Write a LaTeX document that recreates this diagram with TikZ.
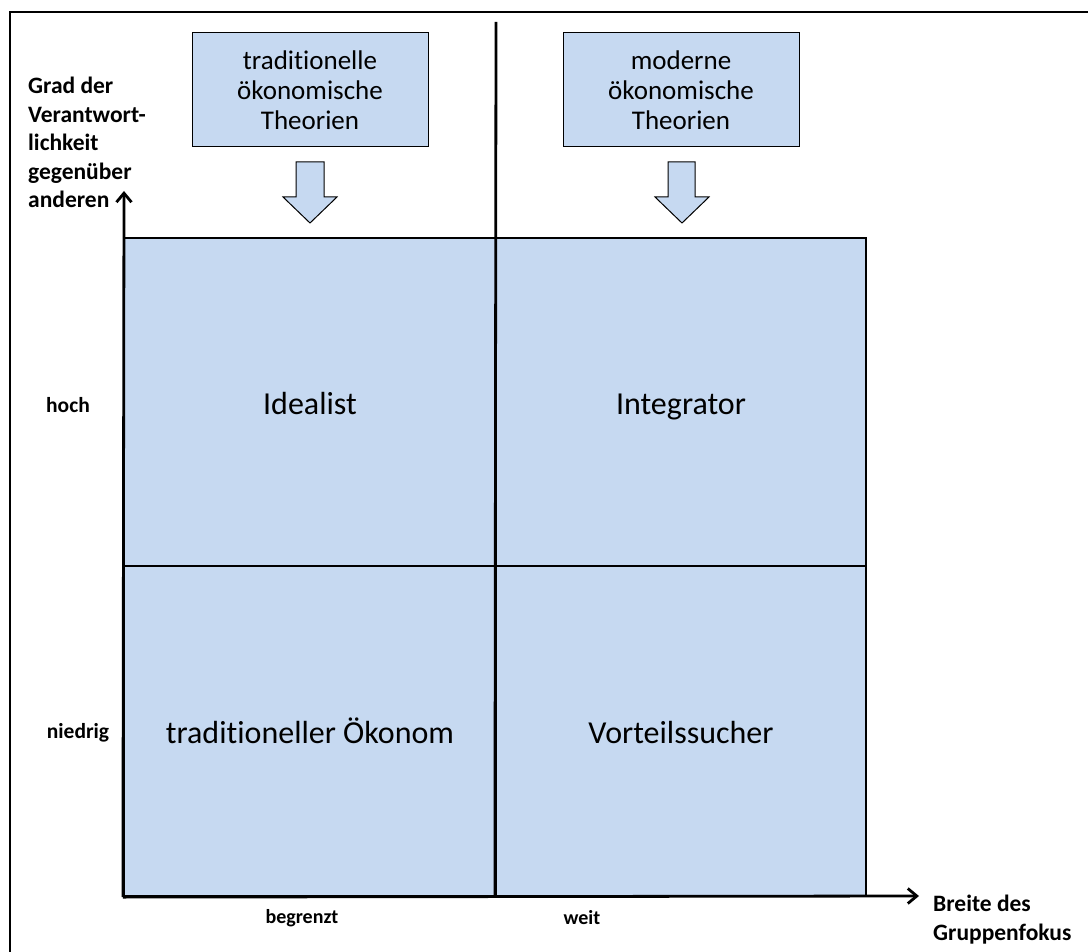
\documentclass[tikz,border=0pt]{standalone}
\usepackage{fontspec}
\setmainfont{Carlito}[Ligatures=NoCommon]
\usetikzlibrary{arrows.meta}
\definecolor{boxblue}{HTML}{C6D9F1}
\newcommand{\tI}{t\kern0pt i}
\tikzset{
  theory/.style={draw=black, line width=1pt, fill=boxblue, minimum width=236pt, minimum height=114pt, align=center, inner sep=0pt, font=\fontsize{27}{30}\selectfont},
  quad/.style={draw=black, line width=2.2pt, fill=boxblue, inner sep=0pt, text height=32pt, text depth=7pt, font=\fontsize{32}{38}\selectfont},
  axislabel/.style={inner sep=0pt, font=\bfseries\fontsize{23.5}{28.5}\selectfont},
  ticklabel/.style={inner sep=0pt, font=\bfseries\fontsize{#1}{24}\selectfont},
  axisline/.style={line width=2.8pt, -{Straight Barb[length=9pt,width=15pt,line width=2.8pt]}},
  blockarrow/.style={draw=black, line width=1pt, fill=boxblue, line join=miter},
}
\begin{document}
\begin{tikzpicture}[x=1pt,y=-1pt]
\useasboundingbox (0,0) rectangle (1088,952);
\fill[white] (0,0) rectangle (1088,952);
% outer frame (open at right and bottom)
\draw[line width=2pt] (1088,12) -- (10,12) -- (10,952);
% quadrants
\node[quad, minimum width=372pt, minimum height=328pt] (tl) at (310,402) {Idealist};
\node[quad, minimum width=370pt, minimum height=328pt] (tr) at (681,402) {Integrator};
\node[quad, minimum width=372pt, minimum height=330pt] (bl) at (310,731) {tradi\tI oneller Ökonom};
\node[quad, minimum width=370pt, minimum height=330pt] (br) at (681,731) {Vorteilssucher};
% theory boxes
\node[theory] (trad) at (310,90) {tradi\tI onelle\\ökonomische\\Theorien};
\node[theory] (mod) at (681,90) {moderne\\ökonomische\\Theorien};
% block arrows
\draw[blockarrow] (296,162) -- (324,162) -- (324,197) -- (337,197) -- (310,223) -- (283,197) -- (296,197) -- cycle;
\draw[blockarrow] (668,162) -- (695,162) -- (695,197) -- (709,197) -- (682,223) -- (655,197) -- (668,197) -- cycle;
% divider
\coordinate (divtop) at (496,22);
\draw[line width=2.8pt] (divtop) -- (br.south west);
% axes
\coordinate (ytip) at (124,191);
\coordinate (xtip) at (919,896);
\draw[axisline] (bl.south west) -- (ytip);
\draw[axisline] (bl.south west) -- (xtip);
% labels
\node[axislabel, anchor=north west, align=left] (ylab) at (28,77) {Grad der\\Verantwort-\\lichkeit\\gegenüber\\anderen};
\node[axislabel, anchor=north west, align=left] (xlab) at (933,895) {Breite des\\Gruppenfokus};
\node[ticklabel=21.5] (hoch) at (68,405) {hoch};
\node[ticklabel=21.5] (niedrig) at (78,733) {niedrig};
\node[ticklabel=20] (begrenzt) at (302,918) {begrenzt};
\node[ticklabel=20] (weit) at (582,918) {weit};
\end{tikzpicture}
\end{document}
